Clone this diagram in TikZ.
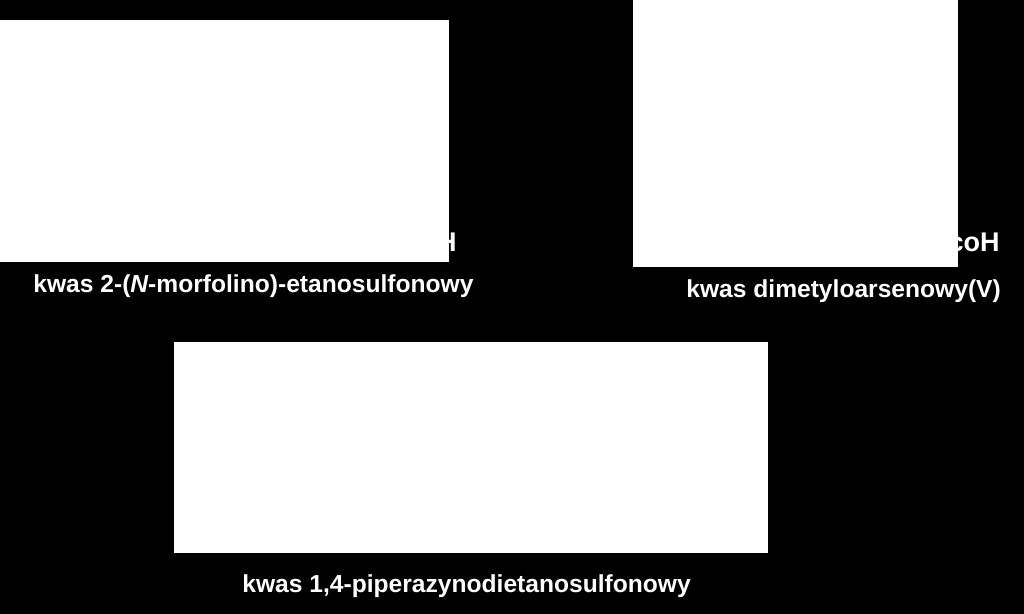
\documentclass[tikz,border=0pt]{standalone}
\usepackage{fontspec}
\setmainfont{Liberation Sans}
\begin{document}
\begin{tikzpicture}[x=0.5pt,y=-0.5pt,
    nazwa/.style={white,font=\fontsize{12.3}{14}\selectfont\bfseries,inner sep=0pt,anchor=base west},
    wzor/.style={white,font=\fontsize{13.5}{15}\selectfont\bfseries,inner sep=0pt,anchor=base east}]
                \useasboundingbox (0,0) rectangle (1024,614);
                \fill[black] (0,0) rectangle (1024,614);
                \node[wzor] (mesH) at (457,252) {H};
                \node[wzor] (arsH) at (1000,252) {coH};
                \fill[white] (0,20) rectangle (449,262);
                \fill[white] (633,0) rectangle (958,267);
                \fill[white] (174,342) rectangle (768,553);
                \node[nazwa] (mes) at (33,293) {kwas 2-({\itshape N}-morfolino)-etanosulfonowy};
                \node[nazwa] (ars) at (686,298) {kwas dimetyloarsenowy(V)};
                \node[nazwa] (pipes) at (242,593) {kwas 1,4-piperazynodietanosulfonowy};
            \end{tikzpicture}
\end{document}
